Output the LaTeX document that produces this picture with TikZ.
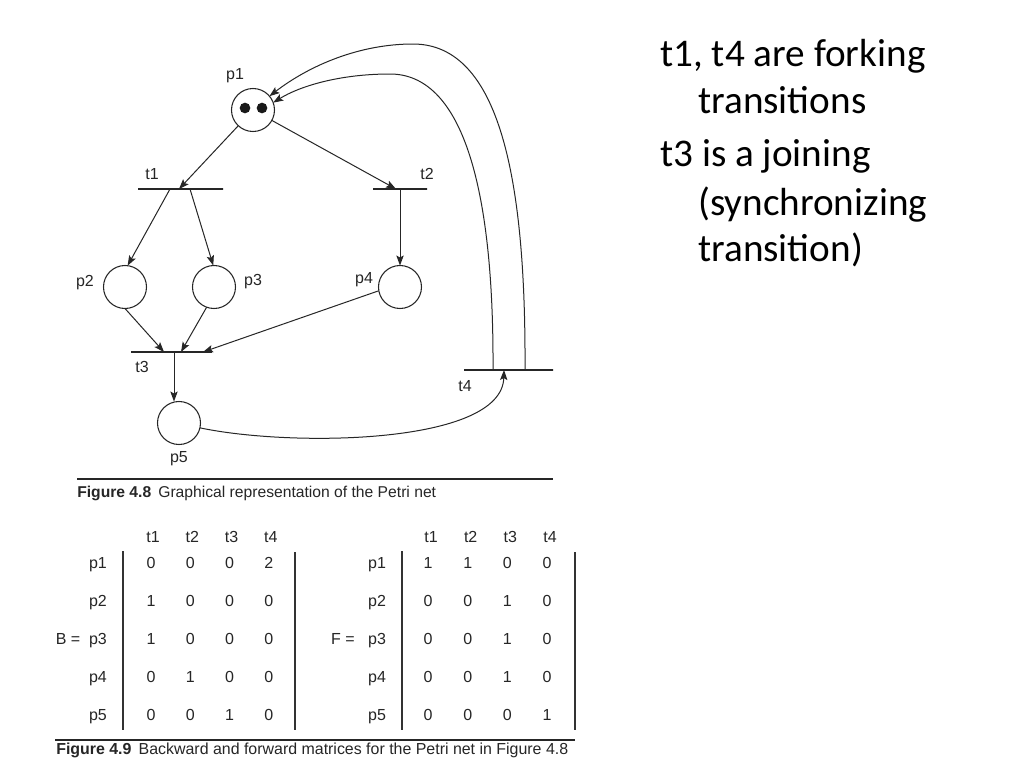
\documentclass[tikz,border=0pt]{standalone}
\usepackage{fontspec}
\setmainfont{Liberation Sans}
\newfontfamily\slidefont{Carlito}
\usetikzlibrary{arrows.meta,calc}
\begin{document}
\begin{tikzpicture}[x=0.75pt,y=-0.75pt,
  pnplace/.style={circle, draw=black!85, line width=0.8pt, minimum size=32.25pt, inner sep=0pt, outer sep=0pt},
  pntrans/.style={rectangle, draw=black!85, line width=0.9pt, minimum height=0pt, inner sep=0pt, outer sep=0pt, minimum width=#1},
  arr/.style={draw=black!85, line width=0.75pt, -{Stealth[length=7.5pt,width=5.5pt,inset=1.5pt]}},
  lbl/.style={font=\fontsize{12}{14}\selectfont, text=black!85, inner sep=0pt},
  cell/.style={lbl, text height=8.6pt, text depth=0pt},
  tok/.style={circle, fill=black!90, minimum size=8pt, inner sep=0pt},
  figcap/.style={font=\fontsize{#1}{14}\selectfont, anchor=west, inner sep=0pt, text=black!85},
  matbar/.style={draw=black!80, line width=1pt},
  slidetext/.style={font=\slidefont\fontsize{29.4}{35}\selectfont, anchor=base west, inner sep=0pt},
]
\useasboundingbox (0,0) rectangle (1024,768);
\fill[white] (0,0) rectangle (1024,768);

% ---------- Petri net ----------
\node[pnplace] (p1) at (253,110) {};
\node[tok] (k1) at (245,108) {};
\node[tok] (k2) at (262,108) {};
\node[pnplace] (p2) at (125,287) {};
\node[pnplace] (p3) at (214,287) {};
\node[pnplace] (p4) at (400,287) {};
\node[pnplace] (p5) at (179,423) {};

\node[pntrans=63.75pt] (t1) at (180.5,189) {};
\node[pntrans=40.5pt]  (t2) at (400,189) {};
\node[pntrans=60.75pt] (t3) at (171.5,352) {};
\node[pntrans=66.75pt] (t4) at (508.5,370) {};

\node[lbl] (lp1) at (235,76) {p1};
\node[lbl] (lt1) at (152,174) {t1};
\node[lbl] (lt2) at (427,174) {t2};
\node[lbl] (lp2) at (85,283) {p2};
\node[lbl] (lp3) at (253,282) {p3};
\node[lbl] (lp4) at (364,280) {p4};
\node[lbl] (lt3) at (142,367) {t3};
\node[lbl] (lp5) at (179,459) {p5};
\node[lbl] (lt4) at (465,386) {t4};

\coordinate (t1in)  at ($(t1)+(-1.5,0)$);
\coordinate (t1l)   at ($(t1)+(-10.5,0)$);
\coordinate (t1r)   at ($(t1)+(9.5,0)$);
\coordinate (t2in)  at ($(t2)+(-4,0)$);
\coordinate (t3a)   at ($(t3)+(-7.5,0)$);
\coordinate (t3b)   at ($(t3)+(9.5,0)$);
\coordinate (t3c)   at ($(t3)+(31.5,0)$);
\coordinate (t3o)   at ($(t3)+(2.5,0)$);
\coordinate (t4in)  at ($(t4)+(-4.5,0)$);
\coordinate (t4o1)  at ($(t4)+(16.5,0)$);
\coordinate (t4o2)  at ($(t4)+(-15.5,0)$);

\draw[arr] (p1) -- (t1in);
\draw[arr] (p1) -- (t2in);
\draw[arr] (t1l) -- (p2.83);
\draw[arr] (t1r) -- (p3.92);
\draw[arr] (t2) -- (t2 |- p4.north);
\draw[arr] (p2.south) -- (t3a);
\draw[arr] (p3.250) -- (t3b);
\draw[arr] (p4.190) -- (t3c);
\draw[arr] (t3o) -- (t3o |- p5.north);
\draw[arr] (p5.-13) .. controls (290,447) and (502,445) .. (t4in);
\draw[arr] (t4o1) .. controls (526,180) and (500,44) .. (413,44)
                  .. controls (360,44) and (310,65) .. (p1.40);
\draw[arr] (t4o2) .. controls (494,180) and (460,74) .. (390,74)
                  .. controls (340,74) and (300,86) .. (p1.20);

% ---------- caption 4.8 ----------
\draw[line width=0.8pt, black!85] (77,479) -- (553,479);
\node[figcap=11.75] (c48) at (77,493) {\textbf{Figure 4.8}\hspace{0.45em}Graphical representation of the Petri net};

% ---------- matrices ----------
\foreach \h [count=\j] in {t1,t2,t3,t4} {
  \node[cell] (hB\j) at ({153+(\j-1)*39.3},537) {\h};
  \node[cell] (hF\j) at ({431+(\j-1)*39.7},537) {\h};
}
\foreach \p [count=\i] in {p1,p2,p3,p4,p5} {
  \node[cell] (rB\i) at (98,{563+(\i-1)*38}) {\p};
  \node[cell] (rF\i) at (377,{563+(\i-1)*38}) {\p};
}
\foreach \row [count=\i] in {{0,0,0,2},{1,0,0,0},{1,0,0,0},{0,1,0,0},{0,0,1,0}} {
  \foreach \v [count=\j] in \row {
    \node[cell] (B-\i-\j) at ({151+(\j-1)*39.3},{563+(\i-1)*38}) {\v};
  }
}
\foreach \row [count=\i] in {{1,1,0,0},{0,0,1,0},{0,0,1,0},{0,0,1,0},{0,0,0,1}} {
  \foreach \v [count=\j] in \row {
    \node[cell] (F-\i-\j) at ({428+(\j-1)*39.7},{563+(\i-1)*38}) {\v};
  }
}
\node[cell] (Beq) at (68,639) {B =};
\node[cell] (Feq) at (343,639) {F =};
\draw[matbar] (123,551) -- (123,730);
\draw[matbar] (295,552) -- (295,730);
\draw[matbar] (402,551) -- (402,730);
\draw[matbar] (575,552) -- (575,730);

% ---------- caption 4.9 ----------
\draw[line width=0.8pt, black!85] (55,740) -- (575,740);
\node[figcap=11.95] (c49) at (56,750) {\textbf{Figure 4.9}\hspace{0.45em}Backward and forward matrices for the Petri net in Figure 4.8};

% ---------- slide text ----------
\node[slidetext] (s1) at (660,66.7) {t1, t4 are forking};
\node[slidetext] (s2) at (698,113) {transitions};
\node[slidetext] (s3) at (660,166.7) {t3 is a joining};
\node[slidetext] (s4) at (698,215) {(synchronizing};
\node[slidetext] (s5) at (698,261.7) {transition)};
\end{tikzpicture}
\end{document}
